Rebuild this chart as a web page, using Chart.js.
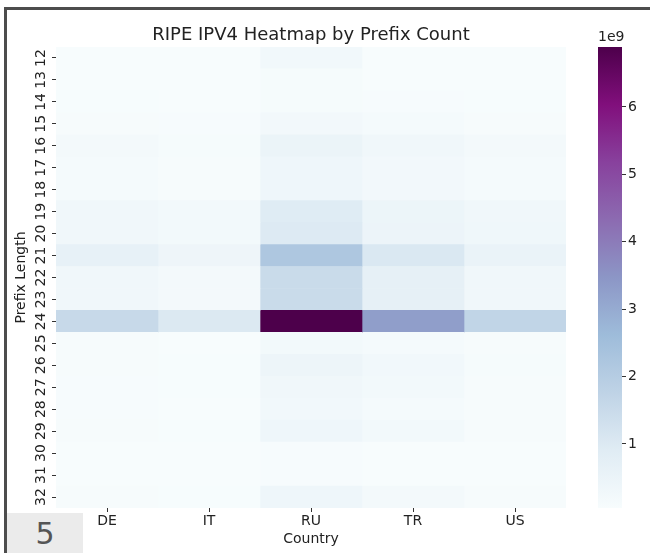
<!DOCTYPE html>
<html><head><meta charset="utf-8">
<script src="https://cdn.jsdelivr.net/npm/chart.js@4/dist/chart.umd.min.js"></script>
<style>
html,body{margin:0;padding:0;background:#fff;}
#wrap{position:relative;width:650px;height:553px;overflow:hidden;background:#fff;}
#main{position:absolute;left:0;top:0;}
#cbar{position:absolute;left:570px;top:0;}
#frameTop{position:absolute;left:4px;top:7px;width:646px;height:3px;background:#4d4d4d;}
#frameLeft{position:absolute;left:4px;top:7px;width:3px;height:546px;background:#4d4d4d;}
#badge{position:absolute;left:7px;top:513px;width:76px;height:40px;background:#ebebeb;color:#555;font:30px "DejaVu Sans";text-align:center;line-height:42px;}
</style></head>
<body>
<div id="wrap">
<canvas id="main" width="650" height="553"></canvas>
<canvas id="cbar" width="80" height="553"></canvas>
<div id="frameTop"></div><div id="frameLeft"></div>
<div id="badge">5</div>
</div>
<script>
// ---- data (prefix counts) ----
const countries = ['DE', 'IT', 'RU', 'TR', 'US'];
const prefixLengths = [12,13,14,15,16,17,18,19,20,21,22,23,24,25,26,27,28,29,30,31,32];
const DE = [0.06e9,0.06e9,0.07e9,0.10e9,0.20e9,0.17e9,0.17e9,0.30e9,0.31e9,0.65e9,0.30e9,0.30e9,1.55e9,0.10e9,0.10e9,0.09e9,0.08e9,0.10e9,0.05e9,0.05e9,0.10e9];
const IT = [0.05e9,0.05e9,0.06e9,0.08e9,0.12e9,0.10e9,0.10e9,0.22e9,0.23e9,0.40e9,0.20e9,0.20e9,1.00e9,0.06e9,0.07e9,0.07e9,0.06e9,0.07e9,0.05e9,0.05e9,0.07e9];
const RU = [0.28e9,0.12e9,0.12e9,0.25e9,0.48e9,0.38e9,0.38e9,0.92e9,0.98e9,2.20e9,1.50e9,1.50e9,6.89e9,0.22e9,0.42e9,0.30e9,0.27e9,0.38e9,0.08e9,0.08e9,0.38e9];
const TR = [0.06e9,0.06e9,0.08e9,0.15e9,0.30e9,0.25e9,0.25e9,0.45e9,0.47e9,1.05e9,0.70e9,0.70e9,3.30e9,0.15e9,0.27e9,0.22e9,0.15e9,0.22e9,0.06e9,0.06e9,0.20e9];
const US = [0.06e9,0.06e9,0.07e9,0.10e9,0.20e9,0.17e9,0.17e9,0.32e9,0.33e9,0.55e9,0.30e9,0.30e9,1.70e9,0.10e9,0.12e9,0.10e9,0.10e9,0.10e9,0.06e9,0.06e9,0.10e9];
const colorbarTicks = [1, 2, 3, 4, 5, 6]; // x 1e9
const colorbarExponent = '1e9';
const chartTitle = 'RIPE IPV4 Heatmap by Prefix Count';
const xTitle = 'Country';
const yTitle = 'Prefix Length';

const series = {DE, IT, RU, TR, US};
const allVals = [].concat(DE, IT, RU, TR, US);
const VMIN = Math.min(...allVals);
const VMAX = Math.max(...allVals);

// BuPu colormap
const BUPU = ['#f7fcfd','#e0ecf4','#bfd3e6','#9ebcda','#8c96c6','#8c6bb1','#88419d','#810f7c','#4d004b'];
function hex2rgb(h){return [parseInt(h.slice(1,3),16),parseInt(h.slice(3,5),16),parseInt(h.slice(5,7),16)];}
const BUPU_RGB = BUPU.map(hex2rgb);
function bupu(t){
  t = Math.max(0, Math.min(1, t));
  const n = BUPU_RGB.length - 1;
  const i = Math.min(n - 1, Math.floor(t * n));
  const f = t * n - i;
  const a = BUPU_RGB[i], b = BUPU_RGB[i+1];
  const c = a.map((v,k)=>Math.round(v + (b[k]-v)*f));
  return `rgb(${c[0]},${c[1]},${c[2]})`;
}

const FONT = 'DejaVu Sans';
const TXT = '#222';

new Chart(document.getElementById('main'), {
  type: 'bar',
  data: {
    labels: countries,
    datasets: countries.map(c => ({
      label: c,
      data: prefixLengths.map(p => ({x: c, y: [p - 0.5, p + 0.5]})),
      backgroundColor: series[c].map(v => bupu((v - VMIN) / (VMAX - VMIN))),
      borderWidth: 0,
      borderSkipped: false,
      barPercentage: 1,
      categoryPercentage: 1,
      grouped: false
    }))
  },
  options: {
    responsive: false,
    animation: false,
    layout: {padding: {left: 0, right: 84, top: 0, bottom: 0}},
    plugins: {legend: {display: false}, tooltip: {enabled: false}, title: {display: false}},
    scales: {
      x: {
        type: 'category',
        position: 'bottom',
        grid: {display: true, offset: false, drawOnChartArea: false, drawTicks: true, tickLength: 4, tickColor: '#333', tickWidth: 1},
        border: {display: false},
        ticks: {color: TXT, font: {family: FONT, size: 14}, padding: 1, maxRotation: 0},
        title: {display: true, text: xTitle, color: TXT, font: {family: FONT, size: 14}, padding: {top: 0, bottom: 5}},
        afterFit: s => { s.height = 45; }
      },
      xTop: {
        type: 'category',
        position: 'top',
        labels: countries,
        grid: {display: false},
        border: {display: false},
        ticks: {display: false},
        title: {display: true, text: chartTitle, color: TXT, font: {family: FONT, size: 18}, padding: {top: 25, bottom: 0}},
        afterFit: s => { s.height = 47; }
      },
      y: {
        type: 'linear',
        min: prefixLengths[0] - 0.5,
        max: prefixLengths[prefixLengths.length - 1] + 0.5,
        reverse: true,
        afterBuildTicks: s => { s.ticks = prefixLengths.map(v => ({value: v})); },
        grid: {display: true, drawOnChartArea: false, drawTicks: true, tickLength: 4, tickColor: '#333', tickWidth: 1},
        border: {display: false},
        ticks: {autoSkip: false, minRotation: 90, maxRotation: 90, crossAlign: 'center', padding: 2, color: TXT, font: {family: FONT, size: 14}},
        title: {display: true, text: yTitle, color: TXT, font: {family: FONT, size: 14}, padding: {top: 13, bottom: 0}},
        afterFit: s => { s.width = 56; }
      }
    }
  }
});

new Chart(document.getElementById('cbar'), {
  type: 'bar',
  data: {
    labels: [''],
    datasets: [{
      data: [{x: '', y: [VMIN, VMAX]}],
      backgroundColor: ctx => {
        const a = ctx.chart.chartArea;
        if (!a) return BUPU[0];
        const g = ctx.chart.ctx.createLinearGradient(0, a.bottom, 0, a.top);
        BUPU.forEach((c, i) => g.addColorStop(i / (BUPU.length - 1), c));
        return g;
      },
      borderWidth: 0,
      borderSkipped: false,
      barPercentage: 1,
      categoryPercentage: 1
    }]
  },
  options: {
    responsive: false,
    animation: false,
    layout: {padding: {left: 28, right: 0, top: 0, bottom: 45}},
    plugins: {
      legend: {display: false}, tooltip: {enabled: false},
      title: {display: true, text: colorbarExponent, align: 'start', color: TXT, font: {family: FONT, size: 14, weight: 'normal', lineHeight: 1.2}, padding: {top: 29, bottom: 1.2}}
    },
    scales: {
      x: {display: false},
      y: {
        type: 'linear',
        position: 'right',
        min: VMIN,
        max: VMAX,
        afterBuildTicks: s => { s.ticks = colorbarTicks.map(v => ({value: v * 1e9})); },
        grid: {display: true, drawOnChartArea: false, drawTicks: true, tickLength: 4, tickColor: '#333', tickWidth: 1},
        border: {display: false},
        ticks: {padding: 2, color: TXT, font: {family: FONT, size: 14}, callback: v => String(Math.round(v / 1e9))},
        afterFit: s => { s.width = 28; }
      }
    }
  }
});
</script>
</body></html>
